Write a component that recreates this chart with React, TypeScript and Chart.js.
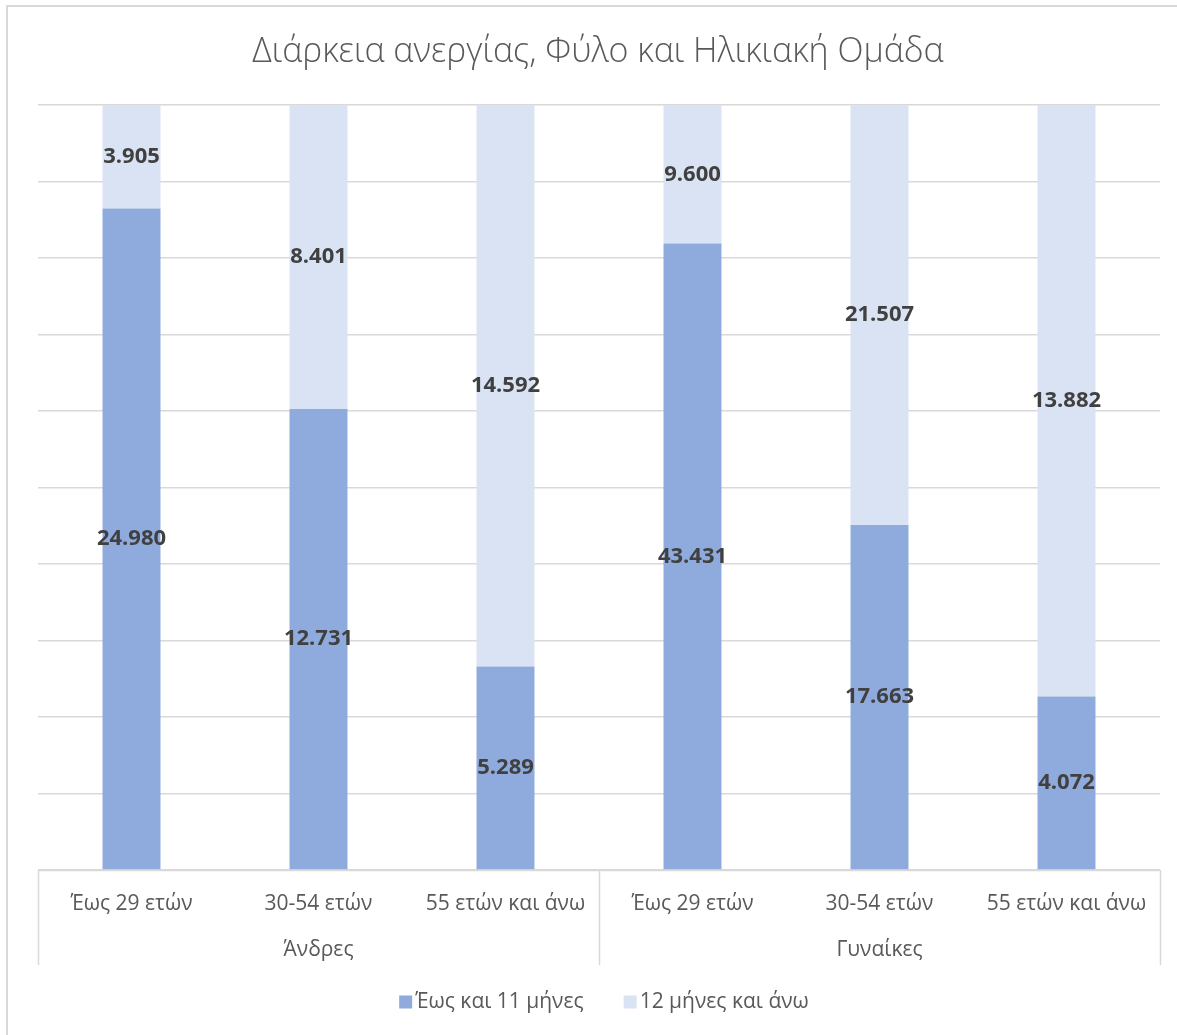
import React, { useEffect, useRef } from "react";
import { Chart, registerables } from "chart.js";

Chart.register(...registerables);

const titleText = "Διάρκεια ανεργίας, Φύλο και Ηλικιακή Ομάδα";
const categories = ["Έως 29 ετών", "30-54 ετών", "55 ετών και άνω", "Έως 29 ετών", "30-54 ετών", "55 ετών και άνω"];
const groups = ["Άνδρες", "Γυναίκες"];
const groupSizes = [3, 3];
const seriesNames = ["Έως και 11 μήνες", "12 μήνες και άνω"];
const shortTerm = [24980, 12731, 5289, 43431, 17663, 4072];
const longTerm = [3905, 8401, 14592, 9600, 21507, 13882];
const seriesColors = ["#8faadc", "#dae3f3"];

const totals = shortTerm.map((v, i) => v + longTerm[i]);
const pct = (arr: number[]) => arr.map((v, i) => (v / totals[i]) * 100);
const rawSeries = [shortTerm, longTerm];

const fmt = (v: number) => v.toLocaleString("de-DE");

const FONT = '"Open Sans", "Noto Sans", sans-serif';

const drawPlugin = {
  id: "custom",
  afterDatasetsDraw(chart: any) {
    const ctx = chart.ctx;
    ctx.save();
    ctx.font = `bold 22px ${FONT}`;
    ctx.fillStyle = "#404040";
    ctx.textAlign = "center";
    ctx.textBaseline = "middle";
    chart.data.datasets.forEach((ds: any, di: number) => {
      const meta = chart.getDatasetMeta(di);
      meta.data.forEach((el: any, i: number) => {
        const y = (el.y + el.base) / 2;
        ctx.fillText(fmt(rawSeries[di][i]), el.x, y);
      });
    });
    ctx.restore();
  },
  afterDraw(chart: any) {
    const ctx = chart.ctx;
    const area = chart.chartArea;
    const xs = chart.scales.x;
    ctx.save();
    // outer border (left + top visible)
    ctx.strokeStyle = "#d9d9d9";
    ctx.lineWidth = 2;
    ctx.beginPath();
    ctx.moveTo(7, 1100);
    ctx.lineTo(7, 6);
    ctx.lineTo(1200, 6);
    ctx.stroke();

    // title
    ctx.fillStyle = "#595959";
    ctx.font = `300 34px ${FONT}`;
    ctx.textAlign = "center";
    ctx.textBaseline = "middle";
    ctx.fillText(titleText, 598, 52);

    // category axis separators
    ctx.strokeStyle = "#d9d9d9";
    ctx.lineWidth = 1.5;
    const sepBottom = 965;
    const step = xs.getPixelForValue(1) - xs.getPixelForValue(0);
    let idx = 0;
    const bounds: number[] = [area.left];
    groupSizes.forEach((n) => {
      idx += n;
      bounds.push(xs.getPixelForValue(idx - 1) + step / 2);
    });
    ctx.beginPath();
    bounds.forEach((bx) => {
      ctx.moveTo(Math.round(bx) + 0.5, area.bottom);
      ctx.lineTo(Math.round(bx) + 0.5, sepBottom);
    });
    ctx.moveTo(area.left, area.bottom + 0.5);
    ctx.lineTo(area.right, area.bottom + 0.5);
    ctx.stroke();

    // category labels
    ctx.fillStyle = "#595959";
    ctx.font = `21px ${FONT}`;
    categories.forEach((c, i) => {
      ctx.fillText(c, xs.getPixelForValue(i), 904);
    });
    // group labels
    groups.forEach((g, gi) => {
      ctx.fillText(g, (bounds[gi] + bounds[gi + 1]) / 2, 950);
    });

    // legend
    ctx.font = `21px ${FONT}`;
    ctx.textAlign = "left";
    const boxSize = 13;
    const gap = 3;
    const itemGap = 40;
    const widths = seriesNames.map((s) => ctx.measureText(s).width);
    const total = widths.reduce((a, b) => a + b, 0) + seriesNames.length * (boxSize + gap) + itemGap * (seriesNames.length - 1);
    let lx = 604 - total / 2;
    const ly = 1002;
    seriesNames.forEach((s, i) => {
      ctx.fillStyle = seriesColors[i];
      ctx.fillRect(lx, ly - boxSize / 2, boxSize, boxSize);
      lx += boxSize + gap;
      ctx.fillStyle = "#595959";
      ctx.fillText(s, lx, ly);
      lx += widths[i] + itemGap;
    });
    ctx.restore();
  },
};

export default function App() {
  const ref = useRef<HTMLCanvasElement | null>(null);
  useEffect(() => {
    if (!ref.current) return;
    const chart = new Chart(ref.current, {
      type: "bar",
      data: {
        labels: categories,
        datasets: [
          { label: seriesNames[0], data: pct(shortTerm), backgroundColor: seriesColors[0], barPercentage: 0.31, categoryPercentage: 1 },
          { label: seriesNames[1], data: pct(longTerm), backgroundColor: seriesColors[1], barPercentage: 0.31, categoryPercentage: 1 },
        ],
      },
      options: {
        responsive: false,
        animation: false,
        layout: { padding: { left: 38, right: 17, top: 105, bottom: 165 } },
        plugins: { legend: { display: false }, title: { display: false }, tooltip: { enabled: false } },
        scales: {
          x: { stacked: true, display: false },
          y: {
            stacked: true,
            min: 0,
            max: 100,
            display: true,
            ticks: { display: false, stepSize: 10 },
            border: { display: false },
            grid: { color: "#d9d9d9", lineWidth: 1.5, drawTicks: false },
          },
        },
      },
      plugins: [drawPlugin],
    });
    return () => chart.destroy();
  }, []);
  return (
    <div style={{ position: "absolute", left: 0, top: 0, width: 1177, height: 1035, background: "#fff" }}>
      <canvas ref={ref} width={1177} height={1035} />
    </div>
  );
}
